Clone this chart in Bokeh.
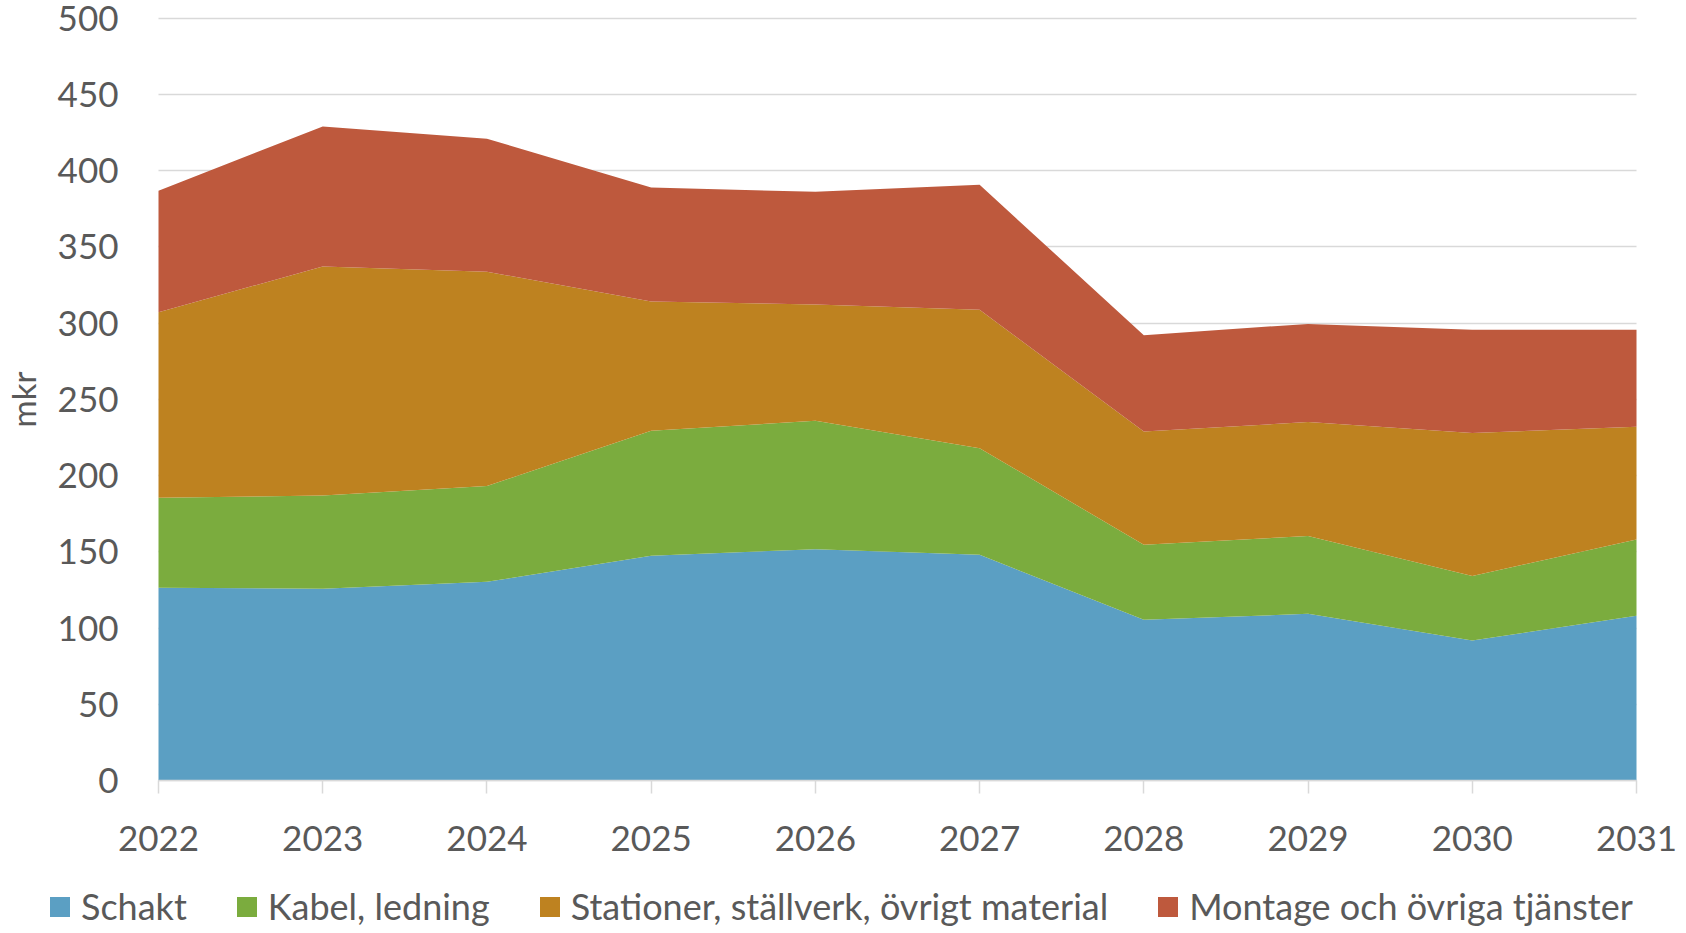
from bokeh.plotting import figure
from bokeh.models import Range1d, FixedTicker, Legend, LegendItem, ColumnDataSource
from bokeh.embed import file_html
from bokeh.resources import INLINE

years = [2022, 2023, 2024, 2025, 2026, 2027, 2028, 2029, 2030, 2031]
schakt = [126.4, 125.8, 130.3, 147.4, 151.7, 148.0, 105.4, 109.3, 91.8, 108.0]
kabel = [59.0, 61.1, 62.8, 82.0, 84.2, 70.0, 49.2, 51.0, 42.4, 50.1]
stationer = [121.8, 150.2, 140.6, 84.8, 76.3, 90.7, 74.3, 74.8, 93.8, 73.9]
montage = [79.6, 91.9, 87.2, 74.8, 73.9, 82.0, 63.2, 64.4, 67.6, 63.6]

series_labels = ["Schakt", "Kabel, ledning", "Stationer, ställverk, övrigt material",
                 "Montage och övriga tjänster"]
series_colors = ["#5B9FC3", "#7BAC3E", "#BE8220", "#BE593D"]
y_ticks = [0, 50, 100, 150, 200, 250, 300, 350, 400, 450, 500]
y_label = "mkr"

FONT = "Lato"
TXT = "#595959"
GRID = "#d9d9d9"

# canvas geometry (pixels)
W, H = 1686, 933
PX_LEFT, PX_RIGHT, PX_TOP, PX_ZERO = 158, 1636, 17.7, 780

xs = (PX_RIGHT - PX_LEFT) / (years[-1] - years[0])
ys = (PX_ZERO - PX_TOP) / (y_ticks[-1] - y_ticks[0])
x_range = Range1d(years[0] - PX_LEFT / xs, years[-1] + (W - PX_RIGHT) / xs)
y_range = Range1d(y_ticks[0] - (H - PX_ZERO) / ys, y_ticks[-1] + PX_TOP / ys)

source = ColumnDataSource(dict(year=years, s0=schakt, s1=kabel, s2=stationer, s3=montage))

p = figure(width=W, height=H, output_backend="svg", toolbar_location=None,
           x_range=x_range, y_range=y_range,
           min_border_left=0, min_border_right=0, min_border_top=0, min_border_bottom=0)
p.outline_line_color = None
p.background_fill_color = "white"
p.border_fill_color = "white"

renderers = p.varea_stack(stackers=["s0", "s1", "s2", "s3"], x="year",
                          color=series_colors, source=source)

# grid
p.xgrid.grid_line_color = None
p.ygrid.ticker = FixedTicker(ticks=y_ticks)
p.ygrid.grid_line_color = GRID
p.ygrid.grid_line_width = 1.5
p.ygrid.cross_bounds = (years[0], years[-1])

# y axis (drawn at the first year)
p.yaxis.fixed_location = years[0]
p.yaxis.bounds = (y_ticks[0], y_ticks[-1])
p.yaxis.ticker = FixedTicker(ticks=y_ticks)
p.yaxis.axis_line_color = None
p.yaxis.major_tick_line_color = None
p.yaxis.minor_tick_line_color = None
p.yaxis.major_tick_out = 0
p.yaxis.major_tick_in = 0
p.yaxis.major_label_standoff = 40
p.yaxis.major_label_text_font = FONT
p.yaxis.major_label_text_font_size = "35px"
p.yaxis.major_label_text_color = TXT
p.yaxis.axis_label = y_label
p.yaxis.axis_label_text_font = FONT
p.yaxis.axis_label_text_font_size = "33px"
p.yaxis.axis_label_text_font_style = "normal"
p.yaxis.axis_label_text_color = TXT
p.yaxis.axis_label_standoff = 12

# x axis (drawn at zero)
p.xaxis.fixed_location = 0
p.xaxis.bounds = (years[0], years[-1])
p.xaxis.ticker = FixedTicker(ticks=years)
p.xaxis.axis_line_color = GRID
p.xaxis.axis_line_width = 1.5
p.xaxis.major_tick_line_color = GRID
p.xaxis.major_tick_line_width = 1.5
p.xaxis.major_tick_out = 13
p.xaxis.major_tick_in = 0
p.xaxis.minor_tick_line_color = None
p.xaxis.major_label_standoff = 32
p.xaxis.major_label_text_font = FONT
p.xaxis.major_label_text_font_size = "35px"
p.xaxis.major_label_text_color = TXT

items = [LegendItem(label=lab, renderers=[r]) for lab, r in zip(series_labels, renderers)]
legend = Legend(items=items, orientation="horizontal", location=(47, 5),
                padding=0, margin=0, spacing=47, label_standoff=9,
                glyph_width=25, glyph_height=25,
                label_text_font=FONT, label_text_font_size="36px",
                label_text_color=TXT, border_line_color=None,
                background_fill_alpha=0)
p.add_layout(legend)

open("out.html", "w").write(file_html(p, INLINE))
